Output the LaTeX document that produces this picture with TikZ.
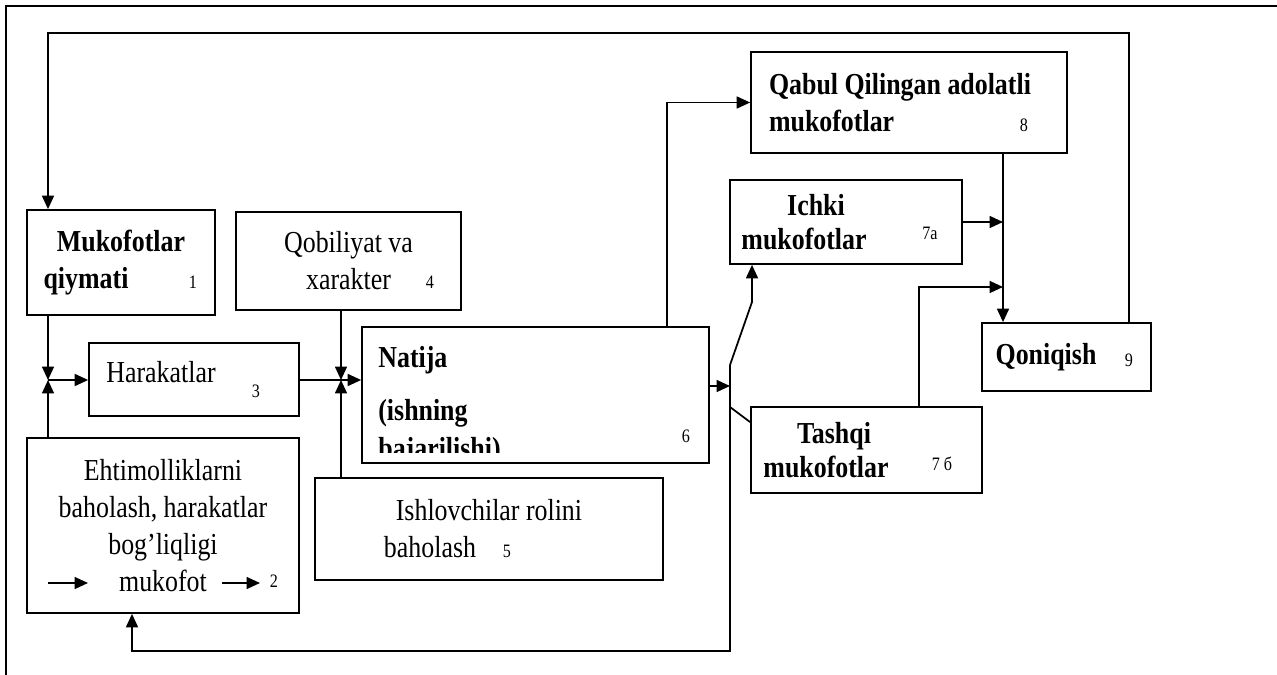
\documentclass[tikz,border=0pt]{standalone}
\usepackage{fontspec}
\setmainfont{Liberation Serif}[FakeStretch=0.85]
\usetikzlibrary{arrows.meta,calc}

\begin{document}
\begin{tikzpicture}[x=0.02cm, y=-0.02cm,
  box/.style={draw, line width=1pt, inner sep=0pt, align=center, font=\fontsize{17.34}{21}\selectfont},
  boldbox/.style={box, font=\bfseries\fontsize{17.34}{21}\selectfont},
  num/.style={anchor=base, inner sep=0pt, font=\fontsize{10.8}{12}\selectfont},
  conn/.style={line width=1pt, -{Triangle[length=0.27cm, width=0.24cm]}},
  wire/.style={line width=1pt}]
  \useasboundingbox (0,0) rectangle (1277,675);
  \draw[line width=1.2pt] (6,675) -- (6,6) -- (1277,6);

  \node (val) [boldbox, minimum width=3.76cm, minimum height=2.1cm] at (121,262.5) {Mukofotlar\\qiymati\hspace*{1.4cm}};
  \node (val-n) [num] at (193,289) {1};
  \node (abil) [box, minimum width=4.5cm, minimum height=1.96cm] at (348.5,261) {Qobiliyat va\\xarakter};
  \node (abil-n) [num] at (430,289) {4};
  \node (eff) [box, text height=0.4cm, text depth=0.26cm, minimum width=4.2cm, minimum height=1.46cm] at (194,379.5) {Harakatlar\hspace*{1.32cm}};
  \node (eff-n) [num] at (256,397) {3};
  \node (prob) [box, minimum width=5.44cm, minimum height=3.5cm] at (163,525.5) {Ehtimolliklarni\\baholash, harakatlar\\bog’liqligi\\mukofot};
  \node (prob-n) [num] at (274,587) {2};
  \node (perf) [box, minimum width=6.94cm, minimum height=2.72cm] at (535.5,395) {};
  \begin{scope}
    \clip (362,327) rectangle (709,452);
    \node (perf-t) [anchor=west, inner sep=0pt, align=left, font=\bfseries\fontsize{17.34}{21.5}\selectfont] at (378,405.5) {Natija\\[0.3cm](ishning\\bajarilishi)};
  \end{scope}
  \node (perf-n) [num] at (686,442) {6};
  \node (role) [box, minimum width=6.96cm, minimum height=2.04cm] at (489,529) {Ishlovchilar rolini\\baholash\hspace*{2.36cm}};
  \node (role-n) [num] at (507,557) {5};
  \node (fair) [boldbox, align=left, minimum width=6.32cm, minimum height=2.02cm] at (909,102.5) {Qabul Qilingan adolatli\hspace*{0.36cm}\\mukofotlar};
  \node (fair-n) [num] at (1024,132) {8};
  \node (intr) [boldbox, font=\bfseries\fontsize{17.34}{19}\selectfont, minimum width=4.64cm, minimum height=1.68cm] at (846,222) {Ichki\hspace*{1.2cm}\\mukofotlar\hspace*{1.68cm}};
  \node (intr-n) [num] at (930,240) {7a};
  \node (extr) [boldbox, font=\bfseries\fontsize{17.34}{19}\selectfont, minimum width=4.62cm, minimum height=1.72cm] at (866.5,450) {Tashqi\hspace*{1.3cm}\\mukofotlar\hspace*{1.62cm}};
  \node (extr-n) [num] at (942,470) {7 б};
  \node (sat) [boldbox, minimum width=3.38cm, minimum height=1.36cm] at (1066.5,357) {Qoniqish\hspace*{0.82cm}};
  \node (sat-n) [num] at (1129,366) {9};

  \coordinate (j1) at (48,380);
  \coordinate (j2) at (341,380);
  \coordinate (sw) at (730,386);
  \coordinate (swtop) at (730,365);
  \coordinate (swlow) at (730,407);
  \coordinate (bend) at (752,302);
  \coordinate (back) at (132,651);
  \coordinate (sum1) at (1003,222);
  \coordinate (sum2) at (1003,287);
  \coordinate (ret) at (48,33);
  \coordinate (a1) at (48,583);
  \coordinate (a2) at (88,583);
  \coordinate (a3) at (222,583);
  \coordinate (a4) at (260,583);

  \draw[conn] (a1) -- (a2);
  \draw[conn] (a3) -- (a4);
  \draw[conn] (val.south -| j1) -- (j1);
  \draw[conn] (prob.north -| j1) -- (j1);
  \draw[conn] (j1) -- (eff.west |- j1);
  \draw[conn] (eff.east |- j2) -- (perf.west |- j2);
  \draw[conn] (abil.south -| j2) -- (j2);
  \draw[conn] (role.north -| j2) -- (j2);
  \draw[conn] (perf.east |- sw) -- (sw);
  \draw[conn] (swtop) |- (back) -- (back |- prob.south);
  \draw[conn] (swtop) -- (bend) -- (bend |- intr.south);
  \draw[wire] (swlow) -- ($(extr.north west)+(0,16)$);
  \draw[conn] ($(perf.north)+(131.5,0)$) |- (fair.west);
  \draw[conn] (intr.east) -- (sum1);
  \draw[conn] ($(extr.north)+(52.5,0)$) |- (sum2);
  \draw[conn] (fair.south -| sum1) -- (sat.north -| sum1);
  \draw[conn] ($(sat.north)+(62.5,0)$) |- (ret) -- (ret |- val.north);
\end{tikzpicture}
\end{document}
